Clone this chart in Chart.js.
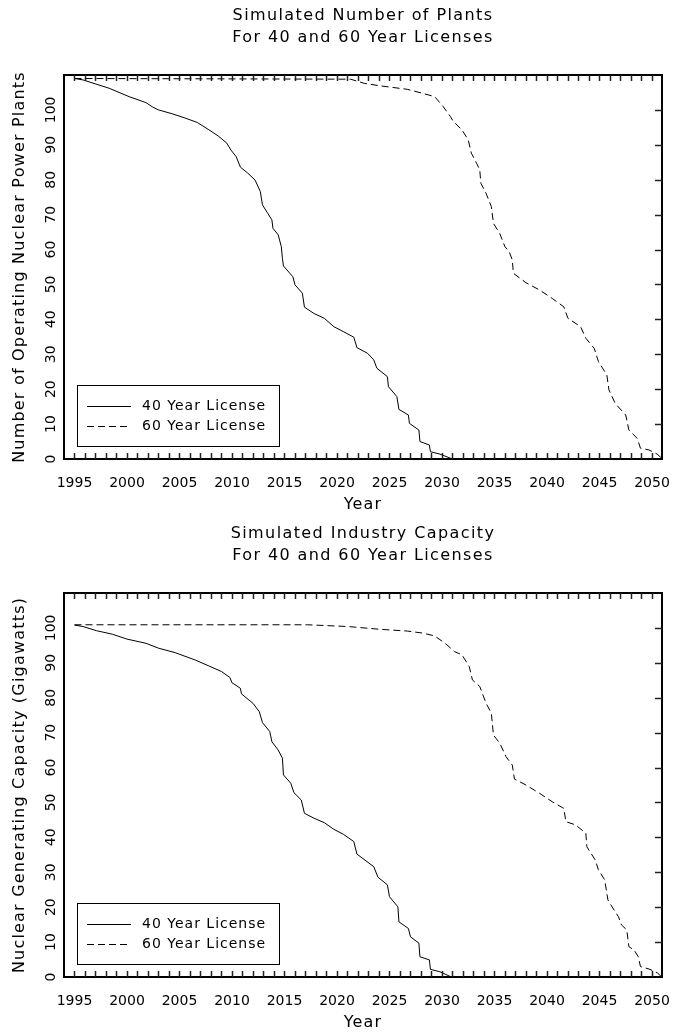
<!DOCTYPE html>
<html>
<head>
<meta charset="utf-8">
<script src="https://cdn.jsdelivr.net/npm/chart.js@4/dist/chart.umd.min.js"></script>
<style>
  body { margin: 0; background: #fff; }
  .wrap { position: absolute; left: 0; width: 678px; }
</style>
</head>
<body>
<div class="wrap" style="top:0;height:516px"><canvas id="plants" width="678" height="516"></canvas></div>
<div class="wrap" style="top:518px;height:514px"><canvas id="capacity" width="678" height="514"></canvas></div>
<script>
const FONT = 'DejaVu Sans';

// number of plants, 40 year license
const plantYears40 = [1995, 1995.8, 1998.3, 2000.2, 2001.8, 2002.4, 2003.0, 2004.3, 2005.6, 2006.7,
  2007.8, 2008.7, 2009.5, 2009.9, 2010.4, 2010.8, 2011.5, 2012.2, 2012.7, 2012.9,
  2013.4, 2013.8, 2013.9, 2014.4, 2014.7, 2014.8, 2014.9, 2015.8, 2016.0, 2016.7,
  2016.9, 2017.8, 2018.8, 2019.7, 2020.6, 2021.6, 2021.9, 2022.9, 2023.5, 2023.8,
  2024.8, 2024.9, 2025.7, 2025.9, 2026.8, 2026.9, 2027.8, 2027.9, 2028.8, 2028.9,
  2029.8, 2031.0];
const plants40 = [109, 108.6, 106.2, 103.8, 102.1, 100.9, 100.0, 98.9, 97.6, 96.4,
  94.3, 92.5, 90.5, 88.5, 86.6, 83.6, 81.9, 79.9, 76.6, 72.8,
  70.4, 68.5, 66.1, 64.2, 60.8, 57.5, 55.3, 52.2, 49.9, 47.5,
  43.5, 41.7, 40.3, 37.9, 36.5, 34.9, 31.9, 30.3, 28.4, 26.0,
  23.6, 20.7, 17.9, 14.2, 12.6, 10.2, 8.3, 5.0, 4.0, 2.1,
  1.4, 0];

// number of plants, 60 year license
const plantYears60 = [1995, 2021.3, 2022.6, 2024.1, 2026.7, 2028.1, 2029.3, 2030.1, 2030.8, 2031.1,
  2031.9, 2032.5, 2032.8, 2033.3, 2033.6, 2033.7, 2034.2, 2034.7, 2034.9, 2035.5,
  2036.0, 2036.4, 2036.7, 2036.8, 2038.0, 2039.3, 2040.5, 2041.6, 2042.0, 2043.2,
  2043.7, 2044.5, 2044.9, 2045.7, 2045.9, 2046.5, 2047.5, 2047.8, 2048.6, 2048.9,
  2049.7, 2050.5, 2050.9];
const plants60 = [109, 108.8, 107.6, 106.9, 105.9, 104.8, 103.8, 101.0, 98.1, 96.6,
  94.3, 91.4, 87.6, 84.7, 82.8, 79.0, 76.1, 72.3, 67.5, 64.6,
  60.8, 59.4, 57.0, 53.2, 50.5, 48.4, 46.0, 43.6, 40.3, 37.9,
  34.6, 31.7, 27.9, 24.1, 19.8, 15.9, 12.6, 8.3, 5.9, 3.1,
  2.6, 1.4, 0.3];

// capacity (GW), 40 year license
const capYears40 = [1995, 1995.8, 1997.1, 1998.6, 2000.0, 2001.8, 2003.0, 2004.6, 2006.5, 2007.8,
  2009.0, 2009.8, 2010.0, 2010.8, 2010.9, 2012.0, 2012.6, 2012.9, 2013.6, 2013.8,
  2014.4, 2014.8, 2014.9, 2015.6, 2015.9, 2016.6, 2016.9, 2017.8, 2018.8, 2019.7,
  2020.6, 2021.6, 2021.9, 2023.5, 2023.9, 2024.8, 2025.0, 2025.8, 2025.9, 2026.8,
  2027.0, 2027.8, 2027.9, 2028.8, 2028.9, 2029.8, 2030.9];
const cap40 = [100.8, 100.4, 99.2, 98.2, 96.8, 95.6, 94.2, 92.9, 90.8, 89.1,
  87.5, 85.8, 84.3, 82.7, 81.1, 78.4, 76.0, 72.9, 70.3, 67.4,
  65.0, 62.7, 57.9, 55.5, 52.8, 50.7, 46.9, 45.5, 44.2, 42.3,
  40.9, 38.8, 35.2, 31.6, 28.6, 26.4, 23.0, 20.1, 15.8, 13.9,
  11.5, 9.7, 5.8, 4.9, 2.2, 1.5, 0];

// capacity (GW), 60 year license
const capYears60 = [1995, 2017.2, 2021.0, 2024.1, 2026.7, 2028.2, 2029.3, 2030.3, 2031.2, 2031.9,
  2032.6, 2032.9, 2033.6, 2034.2, 2034.7, 2034.9, 2035.5, 2036.1, 2036.7, 2036.9,
  2038.0, 2039.3, 2040.5, 2041.6, 2041.8, 2042.7, 2043.7, 2043.8, 2044.6, 2044.9,
  2045.5, 2045.8, 2046.2, 2046.8, 2047.1, 2047.6, 2047.8, 2048.3, 2048.7, 2048.9,
  2049.8, 2050.5, 2050.9];
const cap60 = [100.9, 100.9, 100.4, 99.6, 99.1, 98.5, 97.7, 95.6, 93.2, 92.3,
  88.9, 85.1, 83.2, 78.4, 75.6, 69.3, 67.0, 63.1, 60.7, 56.7,
  55.0, 52.6, 50.2, 48.3, 44.5, 43.6, 41.2, 37.3, 33.5, 30.7,
  27.8, 22.1, 20.1, 17.3, 14.9, 13.5, 8.7, 7.7, 5.8, 3.0,
  2.2, 1.2, 0.1];

const seriesLabels = ['40 Year License', '60 Year License'];
const yTickValues = [0, 10, 20, 30, 40, 50, 60, 70, 80, 90, 100];
const yearTicks = [];
for (let yr = 1995; yr <= 2050; yr++) yearTicks.push(yr);

function toPoints(xs, ys) {
  return xs.map((x, i) => ({ x: x, y: ys[i] }));
}

// frame, inward ticks, rotated y labels, titles and boxed legend
const decorPlugin = {
  id: 'decor',
  afterDraw(chart, args, opts) {
    const ctx = chart.ctx;
    const a = chart.chartArea;
    const xs = chart.scales.x;
    const ys = chart.scales.y;
    const top = Math.round(a.top), bottom = Math.round(a.bottom);
    const left = Math.round(a.left), right = Math.round(a.right);
    ctx.save();
    ctx.setLineDash([]);
    ctx.strokeStyle = '#000';
    ctx.fillStyle = '#000';

    // frame
    ctx.lineWidth = 2;
    ctx.strokeRect(left, top, right - left, bottom - top);

    // inward ticks: every year top and bottom, every 10 on the right
    ctx.lineWidth = 1.5;
    ctx.strokeStyle = '#222';
    yearTicks.forEach(yr => {
      const px = Math.round(xs.getPixelForValue(yr)) + 0.5;
      ctx.beginPath();
      ctx.moveTo(px, bottom);
      ctx.lineTo(px, bottom - 6);
      ctx.moveTo(px, top);
      ctx.lineTo(px, top + 6);
      ctx.stroke();
    });
    yTickValues.forEach(v => {
      if (v === 0) return;
      const py = Math.round(ys.getPixelForValue(v)) + 0.5;
      ctx.beginPath();
      ctx.moveTo(right, py);
      ctx.lineTo(right - 7, py);
      ctx.stroke();
    });
    ctx.strokeStyle = '#000';

    // rotated y tick labels
    ctx.font = '14px "' + FONT + '"';
    ctx.textAlign = 'center';
    ctx.textBaseline = 'middle';
    yTickValues.forEach(v => {
      ctx.save();
      ctx.translate(51, ys.getPixelForValue(v));
      ctx.rotate(-Math.PI / 2);
      ctx.fillText(String(v), 0, 0);
      ctx.restore();
    });

    // titles
    ctx.font = '16px "' + FONT + '"';
    ctx.letterSpacing = '1.4px';
    const cx = (left + right) / 2;
    ctx.fillText(opts.title[0], cx, 16);
    ctx.fillText(opts.title[1], cx, 38);
    ctx.letterSpacing = '1.2px';
    ctx.fillText('Year', cx, 505);

    ctx.save();
    ctx.translate(20, (top + bottom) / 2);
    ctx.rotate(-Math.PI / 2);
    ctx.fillText(opts.yTitle, 0, 0);
    ctx.restore();

    // legend box
    const bx = left + 13, by = bottom - 74;
    ctx.lineWidth = 1;
    ctx.strokeRect(bx + 0.5, by + 0.5, 202, 61);
    ctx.font = '14px "' + FONT + '"';
    ctx.letterSpacing = '1px';
    ctx.textAlign = 'left';
    chart.data.datasets.forEach((ds, i) => {
      const ly = by + 21 + i * 20;
      ctx.setLineDash(ds.borderDash || []);
      ctx.beginPath();
      ctx.moveTo(bx + 10, ly + 0.5);
      ctx.lineTo(bx + 54, ly + 0.5);
      ctx.stroke();
      ctx.setLineDash([]);
      ctx.fillText(ds.label, bx + 65, ly);
    });
    ctx.restore();
  }
};

function makeChart(canvasId, height, d40, d60, title, yTitle) {
  return new Chart(document.getElementById(canvasId), {
    type: 'line',
    data: {
      datasets: [{
        label: seriesLabels[0],
        data: d40,
        borderColor: '#000',
        borderWidth: 1,
        pointRadius: 0,
        tension: 0
      }, {
        label: seriesLabels[1],
        data: d60,
        borderColor: '#000',
        borderWidth: 1,
        borderDash: [7, 4],
        pointRadius: 0,
        tension: 0
      }]
    },
    options: {
      responsive: false,
      animation: false,
      devicePixelRatio: 1,
      layout: { padding: { left: 0, right: 12, top: 75, bottom: 0 } },
      plugins: {
        legend: { display: false },
        tooltip: { enabled: false },
        decor: { title: title, yTitle: yTitle }
      },
      scales: {
        x: {
          type: 'linear',
          min: 1994,
          max: 2051,
          grid: { display: false },
          border: { display: false },
          ticks: {
            stepSize: 5,
            includeBounds: false,
            autoSkip: false,
            maxRotation: 0,
            padding: 8,
            color: '#000',
            font: { family: FONT, size: 14 },
            callback: v => String(v)
          },
          afterFit: s => { s.height = height - 459; }
        },
        y: {
          type: 'linear',
          min: 0,
          max: 110,
          grid: { display: false },
          border: { display: false },
          ticks: { display: false },
          afterFit: s => { s.width = 64; }
        }
      }
    },
    plugins: [decorPlugin]
  });
}

makeChart('plants', 516,
  toPoints(plantYears40, plants40), toPoints(plantYears60, plants60),
  ['Simulated Number of Plants', 'For 40 and 60 Year Licenses'],
  'Number of Operating Nuclear Power Plants');

makeChart('capacity', 514,
  toPoints(capYears40, cap40), toPoints(capYears60, cap60),
  ['Simulated Industry Capacity', 'For 40 and 60 Year Licenses'],
  'Nuclear Generating Capacity (Gigawatts)');
</script>
</body>
</html>
